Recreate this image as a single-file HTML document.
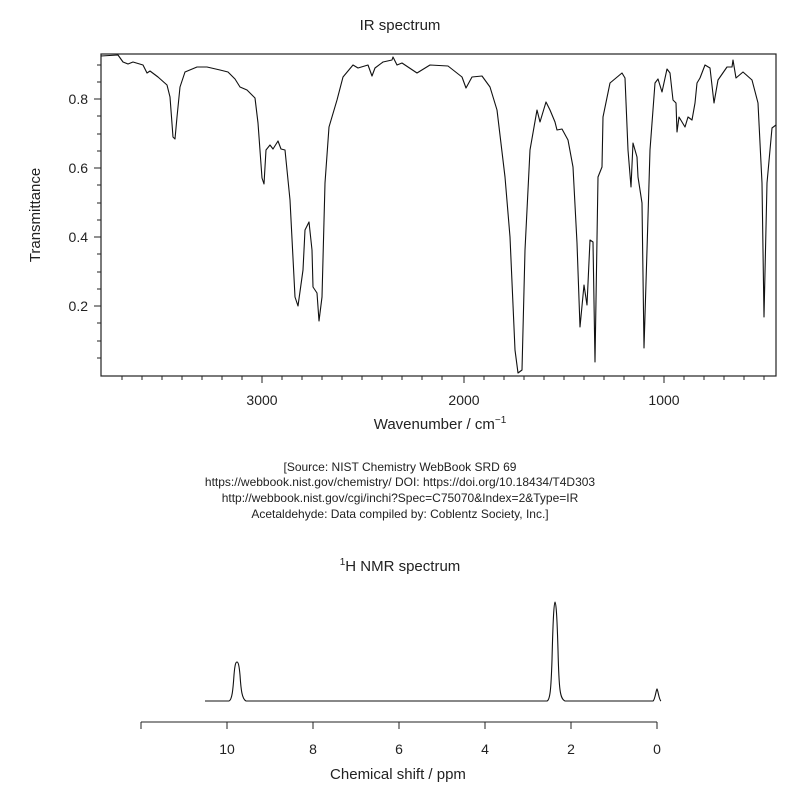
<!DOCTYPE html>
<html><head><meta charset="utf-8"><style>
body{margin:0;background:#fff}
text{font-family:"Liberation Sans",Arial,sans-serif;fill:#222}
</style></head><body>
<svg width="797" height="800" viewBox="0 0 797 800" xmlns="http://www.w3.org/2000/svg">
<text x="400" y="30" font-size="15" text-anchor="middle">IR spectrum</text>
<rect x="101" y="54" width="675" height="322" fill="none" stroke="#222" stroke-width="1.2"/>
<g stroke="#222" stroke-width="1">
<line x1="262" y1="376" x2="262" y2="383"/><line x1="464" y1="376" x2="464" y2="383"/><line x1="664" y1="376" x2="664" y2="383"/>
<line x1="122" y1="376" x2="122" y2="380"/><line x1="142" y1="376" x2="142" y2="380"/><line x1="162" y1="376" x2="162" y2="380"/><line x1="182" y1="376" x2="182" y2="380"/><line x1="202" y1="376" x2="202" y2="380"/><line x1="222" y1="376" x2="222" y2="380"/><line x1="242" y1="376" x2="242" y2="380"/><line x1="282" y1="376" x2="282" y2="380"/><line x1="302" y1="376" x2="302" y2="380"/><line x1="322" y1="376" x2="322" y2="380"/><line x1="342" y1="376" x2="342" y2="380"/><line x1="362" y1="376" x2="362" y2="380"/><line x1="382" y1="376" x2="382" y2="380"/><line x1="402" y1="376" x2="402" y2="380"/><line x1="422" y1="376" x2="422" y2="380"/><line x1="442" y1="376" x2="442" y2="380"/><line x1="484" y1="376" x2="484" y2="380"/><line x1="504" y1="376" x2="504" y2="380"/><line x1="524" y1="376" x2="524" y2="380"/><line x1="544" y1="376" x2="544" y2="380"/><line x1="564" y1="376" x2="564" y2="380"/><line x1="584" y1="376" x2="584" y2="380"/><line x1="604" y1="376" x2="604" y2="380"/><line x1="624" y1="376" x2="624" y2="380"/><line x1="644" y1="376" x2="644" y2="380"/><line x1="684" y1="376" x2="684" y2="380"/><line x1="704" y1="376" x2="704" y2="380"/><line x1="724" y1="376" x2="724" y2="380"/><line x1="744" y1="376" x2="744" y2="380"/><line x1="764" y1="376" x2="764" y2="380"/>
<line x1="94" y1="99" x2="101" y2="99"/><line x1="94" y1="168" x2="101" y2="168"/><line x1="94" y1="237" x2="101" y2="237"/><line x1="94" y1="306" x2="101" y2="306"/>
<line x1="97" y1="65" x2="101" y2="65"/><line x1="97" y1="82" x2="101" y2="82"/><line x1="97" y1="116" x2="101" y2="116"/><line x1="97" y1="134" x2="101" y2="134"/><line x1="97" y1="151" x2="101" y2="151"/><line x1="97" y1="185" x2="101" y2="185"/><line x1="97" y1="203" x2="101" y2="203"/><line x1="97" y1="220" x2="101" y2="220"/><line x1="97" y1="254" x2="101" y2="254"/><line x1="97" y1="272" x2="101" y2="272"/><line x1="97" y1="289" x2="101" y2="289"/><line x1="97" y1="323" x2="101" y2="323"/><line x1="97" y1="341" x2="101" y2="341"/><line x1="97" y1="358" x2="101" y2="358"/>
</g>
<g font-size="14" text-anchor="middle">
<text x="262" y="405">3000</text><text x="464" y="405">2000</text><text x="664" y="405">1000</text>
</g>
<g font-size="14" text-anchor="end">
<text x="88" y="104">0.8</text><text x="88" y="173">0.6</text><text x="88" y="242">0.4</text><text x="88" y="311">0.2</text>
</g>
<text x="440" y="429" font-size="15" text-anchor="middle">Wavenumber / cm<tspan font-size="10" dy="-6">−1</tspan></text>
<text transform="translate(40,215) rotate(-90)" font-size="15" text-anchor="middle">Transmittance</text>
<polyline fill="none" stroke="#111" stroke-width="1.1" stroke-linejoin="round" points="101,56 118,55 123,62 128,64 133,62 143,65 147,73 150,71 158,77 167,85 170,97 173,137 175,139 177,117 180,87 185,72 197,67 207,67 220,70 228,72 235,79 240,87 247,90 255,98 258,123 262,178 264,184 266,150 270,145 273,149 278,141 281,149 285,150 290,200 295,297 298,306 303,270 305,230 309,222 312,250 313,287 317,293 319,321 322,297 325,183 329,127 337,100 343,77 353,65 358,68 368,65 372,76 375,68 383,62 392,60 393,57 397,65 402,63 417,73 430,65 448,66 462,77 466,88 472,77 482,76 490,87 497,110 505,177 510,237 515,350 518,373 522,370 525,250 530,150 537,110 540,122 546,102 550,110 555,122 557,130 562,129 568,140 573,167 577,243 580,327 584,285 587,305 590,240 593,242 595,362 598,177 602,167 603,117 610,83 622,73 625,78 628,150 631,187 633,143 637,157 638,177 642,203 644,348 647,250 650,150 655,83 658,79 662,92 667,69 670,73 673,100 676,103 677,132 679,117 685,127 688,117 692,120 695,103 697,83 700,78 705,65 710,68 714,103 718,80 727,67 732,67 733,60 736,78 743,72 752,80 758,103 762,183 764,317 767,183 772,128 776,125"/>
<g font-size="12" text-anchor="middle">
<text x="400" y="471">[Source: NIST Chemistry WebBook SRD 69</text>
<text x="400" y="486">https://webbook.nist.gov/chemistry/ DOI: https://doi.org/10.18434/T4D303</text>
<text x="400" y="502">http://webbook.nist.gov/cgi/inchi?Spec=C75070&amp;Index=2&amp;Type=IR</text>
<text x="400" y="518">Acetaldehyde: Data compiled by: Coblentz Society, Inc.]</text>
</g>
<text x="400" y="571" font-size="15" text-anchor="middle"><tspan font-size="10" dy="-6">1</tspan><tspan dy="6">H NMR spectrum</tspan></text>
<g stroke="#222" stroke-width="1">
<line x1="141" y1="722" x2="657" y2="722"/>
<line x1="141" y1="722" x2="141" y2="729"/><line x1="227" y1="722" x2="227" y2="729"/><line x1="313" y1="722" x2="313" y2="729"/><line x1="399" y1="722" x2="399" y2="729"/><line x1="485" y1="722" x2="485" y2="729"/><line x1="571" y1="722" x2="571" y2="729"/><line x1="657" y1="722" x2="657" y2="729"/>
</g>
<g font-size="14" text-anchor="middle">
<text x="227" y="754">10</text><text x="313" y="754">8</text><text x="399" y="754">6</text><text x="485" y="754">4</text><text x="571" y="754">2</text><text x="657" y="754">0</text>
</g>
<text x="398" y="779" font-size="15" text-anchor="middle">Chemical shift / ppm</text>
<path fill="none" stroke="#111" stroke-width="1.1" d="M205,701 L229,701 C232,700 233,690 234,675 C235,663 236,662 237,662 C238,662 239,664 240,675 C241,690 242,699 246,701 L547,701 C550,700 551,690 552,660 C553,620 554,602 555,602 C556,602 557,615 558,650 C559,690 560,699 565,701 L653,701 C655,700 656,690 657,689 C658,690 659,700 661,701"/>
</svg>
</body></html>
